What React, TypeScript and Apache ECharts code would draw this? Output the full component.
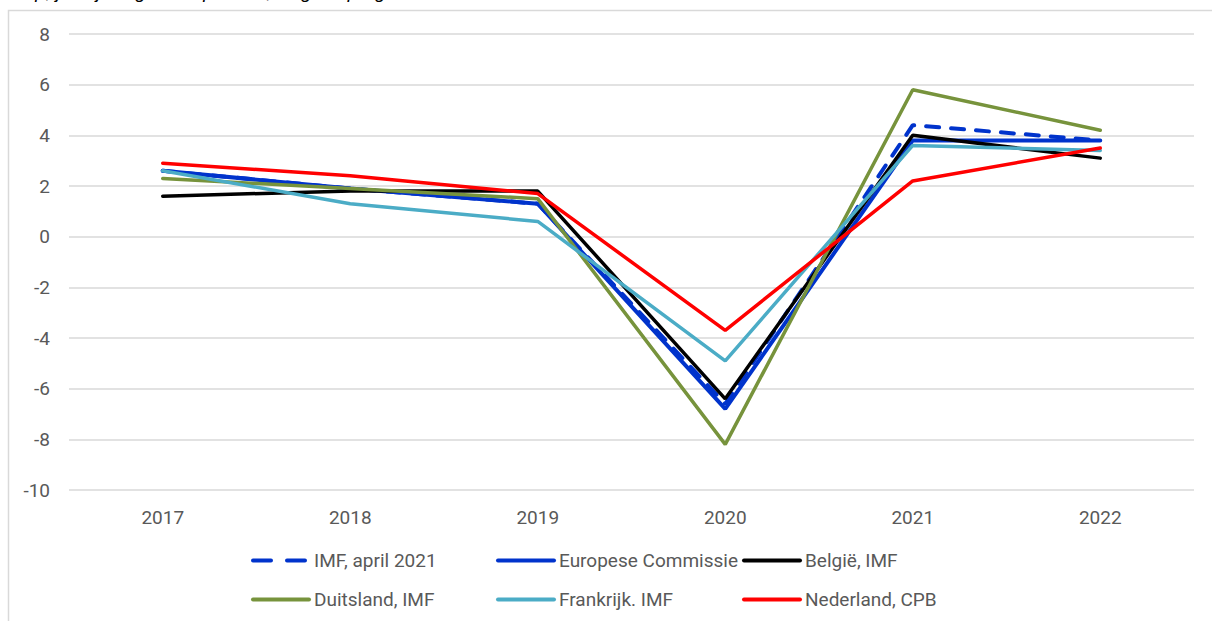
import React, { useEffect, useRef } from "react";
import * as echarts from "echarts";

const years = ["2017", "2018", "2019", "2020", "2021", "2022"];
const imfApril2021 = [2.6, 1.9, 1.3, -6.6, 4.4, 3.8];
const europeseCommissie = [2.6, 1.9, 1.3, -6.8, 3.8, 3.8];
const belgieImf = [1.6, 1.8, 1.8, -6.4, 4.0, 3.1];
const duitslandImf = [2.3, 1.9, 1.5, -8.2, 5.8, 4.2];
const frankrijkImf = [2.6, 1.3, 0.6, -4.9, 3.6, 3.4];
const nederlandCpb = [2.9, 2.4, 1.7, -3.7, 2.2, 3.5];

const seriesNames = [
  "IMF, april 2021",
  "Europese Commissie",
  "België, IMF",
  "Duitsland, IMF",
  "Frankrijk. IMF",
  "Nederland, CPB",
];

const titleText = "Bbp, jaarlijkse groei in procent, volgens prognoses";

const FONT = "Roboto, 'Liberation Sans', Arial, sans-serif";
const GRAY = "#595959";

export default function App() {
  const ref = useRef<HTMLDivElement>(null);
  useEffect(() => {
    if (!ref.current) return;
    const chart = echarts.init(ref.current, null, { renderer: "svg" });
    const dataSets = [imfApril2021, europeseCommissie, belgieImf, duitslandImf, frankrijkImf, nederlandCpb];
    const colors = ["#0033cc", "#0033cc", "#000000", "#77933c", "#4bacc6", "#ff0000"];
    const widths = [4, 4, 3.5, 3.5, 3.5, 3.5];
    const legendPos = [
      [251, 561],
      [496, 561],
      [742, 561],
      [251, 600],
      [496, 600],
      [742, 600],
    ];
    const option: any = {
      animation: false,
      backgroundColor: "#ffffff",
      textStyle: { fontFamily: FONT },
      graphic: [
        {
          type: "rect",
          shape: { x: 8.5, y: 10.5, width: 1300, height: 700 },
          style: { fill: "none", stroke: "#d9d9d9", lineWidth: 1.5 },
          silent: true,
        },
        {
          type: "text",
          x: 12,
          y: -18,
          style: {
            text: titleText,
            font: "italic 19px 'Liberation Sans', Arial, sans-serif",
            fill: "#000000",
          },
          silent: true,
        },
      ],
      grid: { left: 69, right: 18, top: 34, bottom: 131, containLabel: false },
      xAxis: {
        type: "category",
        data: years,
        boundaryGap: true,
        axisLine: { show: false },
        axisTick: { show: false },
        axisLabel: { color: GRAY, fontSize: 19, fontFamily: FONT, margin: 18 },
        splitLine: { show: false },
      },
      yAxis: {
        type: "value",
        min: -10,
        max: 8,
        interval: 2,
        axisLine: { show: false },
        axisTick: { show: false },
        axisLabel: { color: GRAY, fontSize: 19, fontFamily: FONT, margin: 19 },
        splitLine: { lineStyle: { color: "#d9d9d9", width: 1.5 } },
      },
      legend: seriesNames.map((n, i) => ({
        data: [n],
        left: legendPos[i][0],
        top: legendPos[i][1] - 10,
        itemWidth: 56,
        itemHeight: 20,
        padding: 0,
        selectedMode: false,
        itemStyle: { opacity: 0 },
        lineStyle: i === 0 ? { width: 4, type: [18, 16] } : { width: 4 },
        textStyle: { color: GRAY, fontSize: 19, fontFamily: FONT },
      })),
      series: seriesNames.map((n, i) => ({
        name: n,
        type: "line",
        data: dataSets[i],
        symbol: "none",
        showSymbol: false,
        z: 2 + i,
        lineStyle: {
          color: colors[i],
          width: widths[i],
          type: i === 0 ? [13, 12] : "solid",
          cap: "round",
        },
        itemStyle: { color: colors[i] },
      })),
    };
    chart.setOption(option);
    return () => chart.dispose();
  }, []);
  return (
    <div
      ref={ref}
      style={{ position: "fixed", left: 0, top: 0, width: 1212, height: 621 }}
    />
  );
}
